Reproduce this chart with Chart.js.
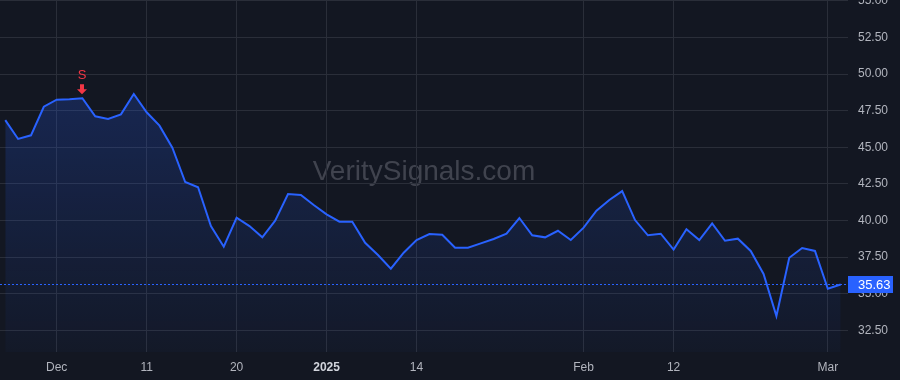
<!DOCTYPE html>
<html>
<head>
<meta charset="utf-8">
<script src="https://cdn.jsdelivr.net/npm/chart.js@4"></script>
<style>
    html, body { margin:0; padding:0; background:#131722; }
    #wrap { width:900px; height:380px; position:relative; }
</style>
</head>
<body>
<div id="wrap"><canvas id="graficaPrecio"></canvas></div>
<script>
// one point per trading day, 25 Nov 2024 .. 4 Mar 2025
var fechas = [
    "2024-11-25","2024-11-26","2024-11-27","2024-11-29",
    "2024-12-02","2024-12-03","2024-12-04","2024-12-05","2024-12-06","2024-12-09","2024-12-10",
    "2024-12-11","2024-12-12","2024-12-13","2024-12-16","2024-12-17","2024-12-18","2024-12-19",
    "2024-12-20","2024-12-23","2024-12-24","2024-12-26","2024-12-27","2024-12-30","2024-12-31",
    "2025-01-02","2025-01-03","2025-01-06","2025-01-07","2025-01-08","2025-01-10","2025-01-13",
    "2025-01-14","2025-01-15","2025-01-16","2025-01-17","2025-01-21","2025-01-22","2025-01-23",
    "2025-01-24","2025-01-27","2025-01-28","2025-01-29","2025-01-30","2025-01-31",
    "2025-02-03","2025-02-04","2025-02-05","2025-02-06","2025-02-07","2025-02-10","2025-02-11",
    "2025-02-12","2025-02-13","2025-02-14","2025-02-18","2025-02-19","2025-02-20","2025-02-21",
    "2025-02-24","2025-02-25","2025-02-26","2025-02-27","2025-02-28",
    "2025-03-03","2025-03-04"
];
var precios = [
    46.86, 45.57, 45.82, 47.77,
    48.25, 48.28, 48.35, 47.12, 46.93, 47.25, 48.64,
    47.39, 46.48, 44.97, 42.63, 42.27, 39.62, 38.21,
    40.19, 39.62, 38.85, 39.99, 41.81, 41.74, 41.06,
    40.42, 39.92, 39.92, 38.48, 37.64, 36.71, 37.80,
    38.67, 39.08, 39.03, 38.14, 38.14, 38.44, 38.74,
    39.10, 40.17, 38.99, 38.85, 39.30, 38.67,
    39.51, 40.67, 41.40, 42.01, 40.03, 38.99, 39.10,
    38.01, 39.40, 38.67, 39.81, 38.62, 38.76, 37.92,
    36.35, 33.48, 37.46, 38.12, 37.92,
    35.34, 35.63
];
var ticksFecha = ["2024-12-02","2024-12-11","2024-12-20","2025-01-02","2025-01-14","2025-02-03","2025-02-12","2025-03-03"];
var ticksTexto = ["Dec","11","20","2025","14","Feb","12","Mar"];
var senales = [{fecha:"2024-12-04", texto:"S"}];
var ultimoPrecio = 35.63;

var azul = '#2962ff';
var rojo = '#f23645';
var gris = '#b2b5be';
var rejilla = '#2a2e39';

var puntos = precios.map(function(p, i){ return {x:i, y:p}; });
var ticksIdx = ticksFecha.map(function(f){ return fechas.indexOf(f); });

var pluginMarcas = {
    id:'marcas',
    beforeDraw: function(chart){
        var c = chart.ctx, a = chart.chartArea;
        c.save();
        c.font = '28px "Liberation Sans", Arial, sans-serif';
        c.fillStyle = 'rgba(120,123,134,0.45)';
        c.textAlign = 'center';
        c.textBaseline = 'middle';
        c.fillText('VeritySignals.com', (a.left + a.right) / 2, 172);
        c.restore();
    },
    afterDatasetsDraw: function(chart){
        var c = chart.ctx, a = chart.chartArea;
        var xs = chart.scales.x, ys = chart.scales.y;
        c.save();
        // senales
        senales.forEach(function(s){
            var i = fechas.indexOf(s.fecha);
            var px = Math.round(xs.getPixelForValue(i));
            var py = ys.getPixelForValue(precios[i]);
            c.fillStyle = rojo;
            c.beginPath();
            c.moveTo(px - 2, py - 14);
            c.lineTo(px + 2, py - 14);
            c.lineTo(px + 2, py - 9);
            c.lineTo(px + 5, py - 9);
            c.lineTo(px, py - 4);
            c.lineTo(px - 5, py - 9);
            c.lineTo(px - 2, py - 9);
            c.closePath();
            c.fill();
            c.font = '13px "Liberation Sans", Arial, sans-serif';
            c.textAlign = 'center';
            c.textBaseline = 'middle';
            c.fillText(s.texto, px, py - 23);
        });
        // linea del ultimo precio
        var yl = Math.round(ys.getPixelForValue(ultimoPrecio)) + 0.5;
        c.strokeStyle = azul;
        c.lineWidth = 1;
        c.setLineDash([2, 2]);
        c.beginPath();
        c.moveTo(a.left, yl);
        c.lineTo(a.right, yl);
        c.stroke();
        c.setLineDash([]);
        c.restore();
    },
    afterDraw: function(chart){
        var c = chart.ctx, a = chart.chartArea, ys = chart.scales.y;
        var yl = ys.getPixelForValue(ultimoPrecio);
        c.save();
        c.fillStyle = azul;
        c.fillRect(a.right, Math.round(yl) - 8, 45, 17);
        c.fillStyle = '#ffffff';
        c.font = '13px "Liberation Sans", Arial, sans-serif';
        c.textAlign = 'left';
        c.textBaseline = 'middle';
        c.fillText(ultimoPrecio.toFixed(2), a.right + 10, Math.round(yl) + 1);
        c.restore();
    }
};

function sinRelleno(s){
    s.paddingTop = 0;
    s.paddingBottom = 0;
    s.paddingLeft = 0;
    s.paddingRight = 0;
}

function graficaPrecio(){
    var canva = document.getElementById("graficaPrecio").getContext("2d");
    chartP = new Chart(canva,{
        type:"line",
        data:{
            datasets:[{
                label:"Precio",
                data:puntos,
                borderColor:azul,
                borderWidth:2,
                pointRadius:0,
                tension:0,
                fill:'start',
                backgroundColor:function(ctx){
                    var a = ctx.chart.chartArea;
                    if(!a) return 'rgba(41,98,255,0.15)';
                    var g = ctx.chart.ctx.createLinearGradient(0, a.top, 0, a.bottom);
                    g.addColorStop(0, 'rgba(41,98,255,0.28)');
                    g.addColorStop(1, 'rgba(41,98,255,0.03)');
                    return g;
                }
            }]
        },
        options:{
            responsive:true,
            maintainAspectRatio:false,
            animation:false,
            layout:{ padding:0 },
            plugins:{
                legend:{ display:false },
                tooltip:{ enabled:false }
            },
            scales:{
                x:{
                    type:'linear',
                    min:-0.41,
                    max:65.57,
                    afterBuildTicks:function(s){
                        s.ticks = ticksIdx.map(function(v){ return {value:v}; });
                    },
                    afterFit:function(s){ s.height = 28; sinRelleno(s); },
                    grid:{ color:rejilla, drawTicks:false },
                    border:{ display:false },
                    ticks:{
                        includeBounds:false,
                        maxRotation:0,
                        autoSkip:false,
                        padding:8,
                        color:function(ctx){ return ctx.tick && ctx.tick.value === ticksIdx[3] ? '#d1d4dc' : gris; },
                        font:function(ctx){
                            var b = ctx.tick && ctx.tick.value === ticksIdx[3];
                            return { family:'"Liberation Sans", Arial, sans-serif', size:12, weight: b ? 'bold' : 'normal' };
                        },
                        callback:function(v){
                            var k = ticksIdx.indexOf(v);
                            return k >= 0 ? ticksTexto[k] : '';
                        }
                    }
                },
                y:{
                    position:'right',
                    min:31.02,
                    max:55.06,
                    afterFit:function(s){ s.width = 52; sinRelleno(s); },
                    grid:{ color:rejilla, drawTicks:false },
                    border:{ display:false },
                    ticks:{
                        stepSize:2.5,
                        includeBounds:false,
                        padding:10,
                        color:gris,
                        font:{ family:'"Liberation Sans", Arial, sans-serif', size:12 },
                        callback:function(v){ return v.toFixed(2); }
                    }
                }
            }
        },
        plugins:[pluginMarcas]
    });
}

graficaPrecio();
</script>
</body>
</html>
